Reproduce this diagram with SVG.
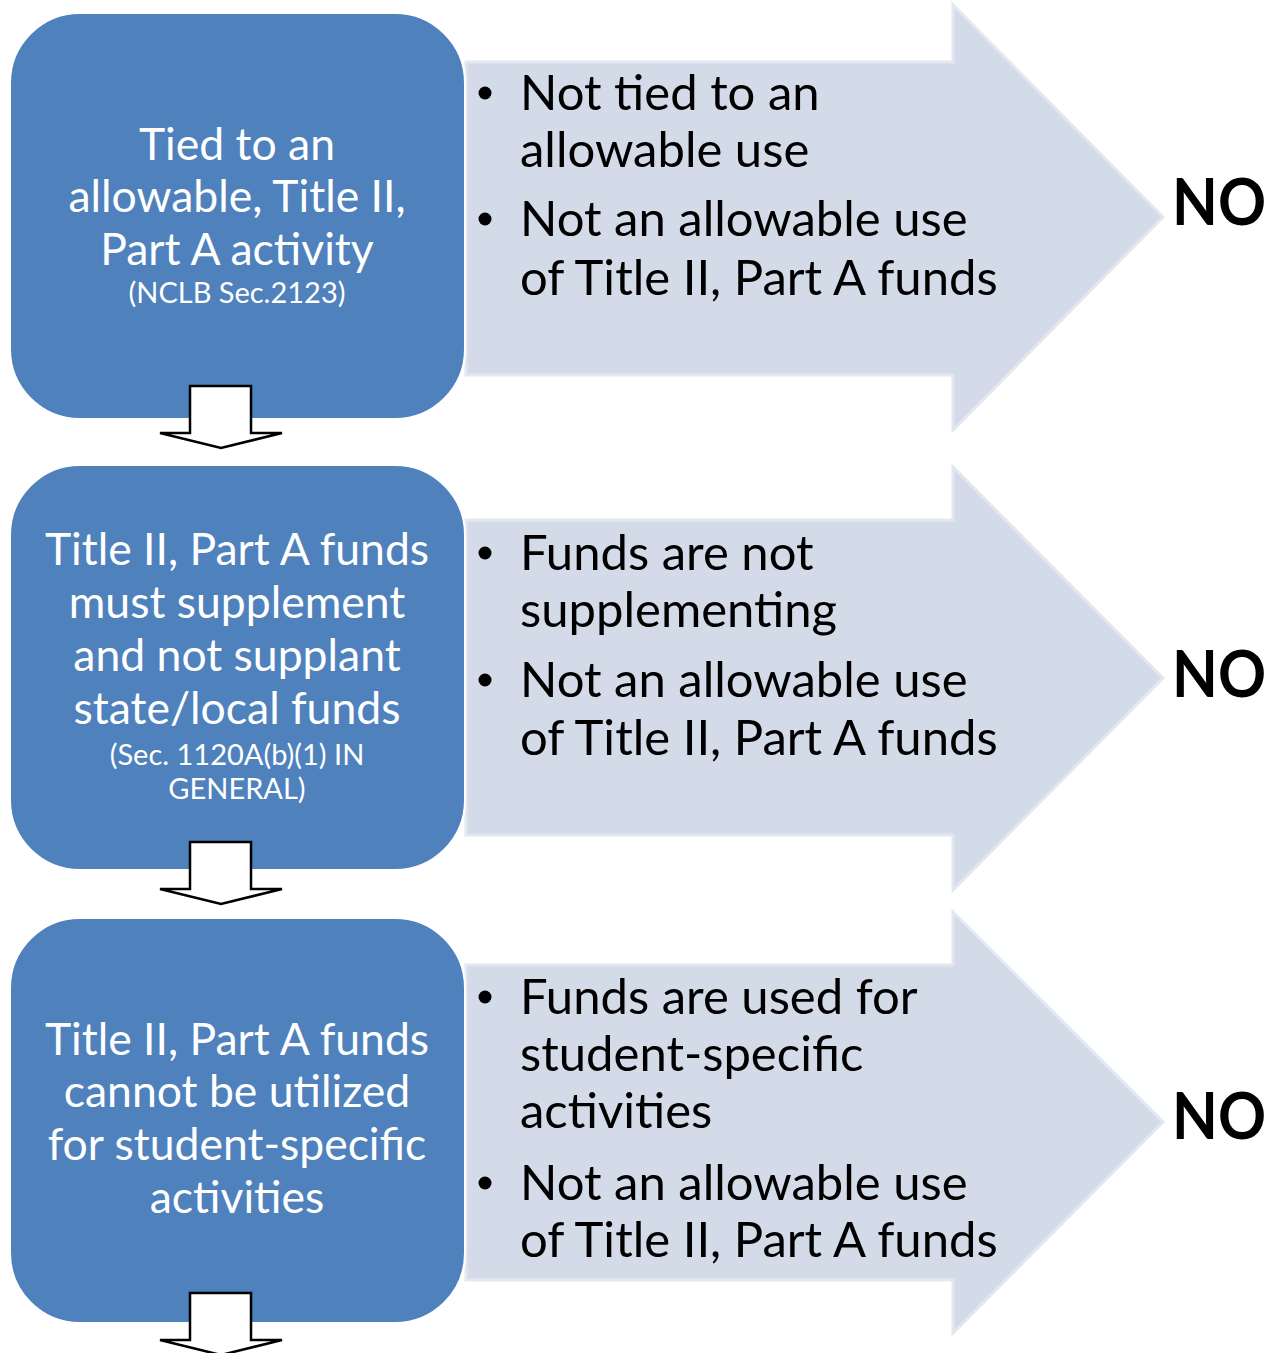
<svg xmlns="http://www.w3.org/2000/svg" width="1279" height="1353" viewBox="0 0 1279 1353">
<style>
.bg{fill:#ffffff}
.box{fill:#4F81BD;stroke:#ffffff;stroke-width:2}
.arrow{fill:#D4DBE8;stroke:#E2E7F0;stroke-width:3;stroke-linejoin:miter}
.down{fill:#ffffff;stroke:#000000;stroke-width:2.5;stroke-linejoin:miter}
.bt{font-family:Lato,"Open Sans",sans-serif;fill:#ffffff;text-anchor:middle;font-size:44.5px}
.bs{font-family:Lato,"Open Sans",sans-serif;fill:#ffffff;text-anchor:middle;font-size:29px}
.rt{font-family:Lato,"Open Sans",sans-serif;fill:#000000;font-size:49px}
.no{font-family:Lato,"Liberation Sans",sans-serif;fill:#000000;font-size:65px;font-weight:bold}
.dot{fill:#000000}
</style>
<rect class="bg" x="0" y="0" width="1279" height="1353"/>
<g id="arrow1">
<polygon class="arrow" points="466,62 953,62 953,5 1163,217 953,430 953,375 466,375"/>
<circle class="dot" cx="485" cy="93" r="6.5"/>
<circle class="dot" cx="485" cy="219" r="6.5"/>
<text class="rt" x="520" y="110">Not tied to an</text>
<text class="rt" x="520" y="167">allowable use</text>
<text class="rt" x="520" y="236">Not an allowable use</text>
<text class="rt" x="520" y="295">of Title II, Part A funds</text>
</g>
<g id="arrow2">
<polygon class="arrow" points="466,520 953,520 953,467 1163,678 953,890 953,835 466,835"/>
<circle class="dot" cx="485" cy="553" r="6.5"/>
<circle class="dot" cx="485" cy="680" r="6.5"/>
<text class="rt" x="520" y="570">Funds are not</text>
<text class="rt" x="520" y="627">supplementing</text>
<text class="rt" x="520" y="697">Not an allowable use</text>
<text class="rt" x="520" y="755">of Title II, Part A funds</text>
</g>
<g id="arrow3">
<polygon class="arrow" points="466,965 953,965 953,912 1163,1122 953,1333 953,1280 466,1280"/>
<circle class="dot" cx="485" cy="997" r="6.5"/>
<circle class="dot" cx="485" cy="1183" r="6.5"/>
<text class="rt" x="520" y="1014">Funds are used for</text>
<text class="rt" x="520" y="1071">student-specific</text>
<text class="rt" x="520" y="1128">activities</text>
<text class="rt" x="520" y="1200">Not an allowable use</text>
<text class="rt" x="520" y="1257">of Title II, Part A funds</text>
</g>
<g id="node1">
<rect class="box" x="10" y="13" width="455" height="406" rx="70" ry="70"/>
<text class="bt" x="237" y="160">Tied to an</text>
<text class="bt" x="237" y="212">allowable, Title II,</text>
<text class="bt" x="237" y="265">Part A activity</text>
<text class="bs" x="237" y="303">(NCLB Sec.2123)</text>
</g>
<g id="node2">
<rect class="box" x="10" y="465" width="455" height="405" rx="70" ry="70"/>
<text class="bt" x="237" y="565">Title II, Part A funds</text>
<text class="bt" x="237" y="618">must supplement</text>
<text class="bt" x="237" y="671">and not supplant</text>
<text class="bt" x="237" y="724">state/local funds</text>
<text class="bs" x="237" y="765">(Sec. 1120A(b)(1) IN</text>
<text class="bs" x="237" y="799">GENERAL)</text>
</g>
<g id="node3">
<rect class="box" x="10" y="918" width="455" height="405" rx="70" ry="70"/>
<text class="bt" x="237" y="1055">Title II, Part A funds</text>
<text class="bt" x="237" y="1107">cannot be utilized</text>
<text class="bt" x="237" y="1160">for student-specific</text>
<text class="bt" x="237" y="1213">activities</text>
</g>
<g id="no1"><text class="no" x="1172" y="225" textLength="94" lengthAdjust="spacingAndGlyphs">NO</text></g>
<g id="no2"><text class="no" x="1172" y="697" textLength="94" lengthAdjust="spacingAndGlyphs">NO</text></g>
<g id="no3"><text class="no" x="1172" y="1139" textLength="94" lengthAdjust="spacingAndGlyphs">NO</text></g>
<g id="connectors">
<polygon class="down" points="190,386 251,386 251,433 282,433 221,448 160,433 190,433"/>
<polygon class="down" points="190,842 251,842 251,889 282,889 221,904 160,889 190,889"/>
<polygon class="down" points="190,1293 251,1293 251,1340 282,1340 221,1355 160,1340 190,1340"/>
</g>
</svg>
